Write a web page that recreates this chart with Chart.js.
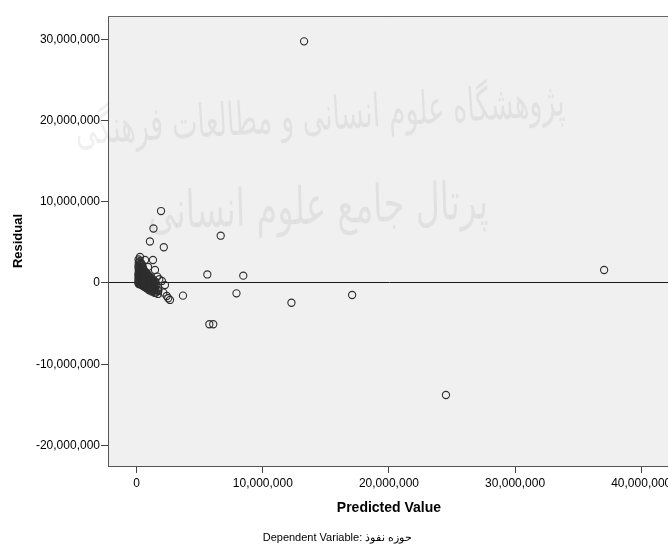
<!DOCTYPE html>
<html>
<head>
<meta charset="utf-8">
<script src="https://cdn.jsdelivr.net/npm/chart.js@4.4.0/dist/chart.umd.min.js"></script>
<style>
    html, body { margin: 0; padding: 0; background: #fff; overflow: hidden; }
    #wrap { width: 668px; height: 546px; overflow: hidden; }
    canvas { display: block; }
</style>
</head>
<body>
<div id="wrap"><canvas id="residualChart" width="675" height="546"></canvas></div>
<script>
// tick positions (raw units)
const xTicks = [0, 10000000, 20000000, 30000000, 40000000];
const yTicks = [-20000000, -10000000, 0, 10000000, 20000000, 30000000];

// values, in millions
const MILLION = 1000000;
const predicted = [
    // isolated points
    13.27, 1.93, 6.66, 1.33, 1.05, 2.15, 37.06, 5.60, 8.45, 7.91, 17.08, 3.67, 12.27, 5.76, 6.07, 24.52,
    // around the cluster
    0.26, 0.66, 1.29, 0.90, 1.45, 1.63, 1.79, 2.00, 2.24, 1.71, 2.11, 2.38, 2.50, 2.64,
    // dense cluster
    0.15, 0.16, 0.14, 0.15, 0.17, 0.15, 0.14, 0.16, 0.15, 0.15, 0.17, 0.14, 0.16, 0.15,
    0.21, 0.22, 0.20, 0.21, 0.23, 0.21, 0.20, 0.22, 0.21, 0.21, 0.22, 0.20, 0.21, 0.22,
    0.28, 0.29, 0.27, 0.28, 0.30, 0.28, 0.27, 0.29, 0.28, 0.28, 0.30,
    0.35, 0.36, 0.34, 0.35, 0.37, 0.35, 0.34, 0.36, 0.35, 0.35, 0.36, 0.34,
    0.42, 0.43, 0.41, 0.42, 0.44, 0.42, 0.41, 0.43, 0.42, 0.42, 0.44,
    0.49, 0.50, 0.48, 0.49, 0.51, 0.49, 0.48, 0.50, 0.49, 0.49, 0.50,
    0.56, 0.57, 0.55, 0.56, 0.58, 0.56, 0.55, 0.57, 0.56,
    0.64, 0.65, 0.63, 0.64, 0.66, 0.64, 0.63, 0.65, 0.64,
    0.72, 0.73, 0.71, 0.72, 0.74, 0.72, 0.71, 0.73,
    0.81, 0.82, 0.80, 0.81, 0.83, 0.81, 0.80, 0.82,
    0.90, 0.91, 0.89, 0.90, 0.92, 0.90, 0.89,
    1.00, 1.01, 0.99, 1.00, 1.02, 1.00, 0.99,
    1.10, 1.11, 1.09, 1.10, 1.12, 1.10,
    1.20, 1.21, 1.19, 1.20, 1.22, 1.20,
    1.30, 1.31, 1.29, 1.30, 1.32,
    1.40, 1.41, 1.39, 1.40, 1.42,
    1.50, 1.51, 1.49, 1.50,
    1.70, 1.71, 1.69
];
const residual = [
    29.75, 8.86, 5.82, 6.71, 5.11, 4.40, 1.60, 1.05, 0.90, -1.27, -1.48, -1.56, -2.43, -5.08, -5.08, -13.79,
    3.20, 2.83, 2.83, 1.97, 1.60, 0.78, 0.46, 0.25, -0.25, -0.86, -1.19, -1.60, -1.88, -2.09,
    2.90, 2.50, 2.10, 1.80, 1.50, 1.20, 1.00, 0.80, 0.60, 0.40, 0.25, 0.10, 0.00, -0.10,
    2.70, 2.30, 1.95, 1.65, 1.35, 1.10, 0.90, 0.70, 0.50, 0.32, 0.18, 0.05, -0.05, -0.15,
    2.60, 2.20, 1.70, 1.30, 0.90, 0.70, 0.50, 0.30, 0.15, 0.00, -0.15,
    2.45, 2.00, 1.55, 1.20, 0.95, 0.75, 0.60, 0.42, 0.25, 0.10, -0.05, -0.20,
    2.30, 1.90, 1.40, 1.10, 0.80, 0.55, 0.35, 0.20, 0.05, -0.10, -0.30,
    1.95, 1.50, 1.25, 1.00, 0.70, 0.48, 0.28, 0.12, -0.05, -0.20, -0.35,
    1.60, 1.20, 0.90, 0.60, 0.40, 0.20, 0.00, -0.20, -0.40,
    1.45, 1.05, 0.75, 0.50, 0.30, 0.10, -0.10, -0.30, -0.50,
    1.30, 0.90, 0.60, 0.30, 0.10, -0.10, -0.30, -0.55,
    1.15, 0.75, 0.45, 0.20, -0.05, -0.30, -0.55, -0.70,
    1.00, 0.60, 0.30, 0.00, -0.20, -0.45, -0.70,
    0.85, 0.45, 0.15, -0.15, -0.40, -0.65, -0.90,
    0.70, 0.30, 0.00, -0.30, -0.55, -0.85,
    0.55, 0.15, -0.20, -0.50, -0.75, -1.05,
    0.40, 0.00, -0.35, -0.70, -1.00,
    0.25, -0.15, -0.55, -0.90, -1.20,
    0.10, -0.40, -0.80, -1.20,
    -0.60, -1.00, -1.35
];

Chart.defaults.font.family = '"Liberation Sans", Arial, sans-serif';
Chart.defaults.color = '#000';

// plot background, watermark and top border
const plotFrame = {
    id: 'plotFrame',
    beforeDraw(chart) {
        const { ctx, chartArea: a } = chart;
        ctx.save();
        ctx.fillStyle = '#f0f0f0';
        ctx.fillRect(a.left, a.top, a.right - a.left, a.bottom - a.top);

        // faint watermark text
        const mark = (txt, cx, cy, w, h, ang) => {
            ctx.save();
            ctx.font = '40px "DejaVu Sans"';
            const mw = ctx.measureText(txt).width;
            ctx.translate(cx, cy);
            ctx.rotate(ang);
            ctx.scale(w / mw, h / 40);
            ctx.textAlign = 'center';
            ctx.textBaseline = 'middle';
            ctx.fillStyle = 'rgba(0,0,0,0.06)';
            ctx.fillText(txt, 0, 0);
            ctx.restore();
        };
        mark('پژوهشگاه علوم انسانی و مطالعات فرهنگی', 320, 118, 490, 46, -0.06);
        mark('پرتال جامع علوم انسانی', 318, 210, 340, 52, -0.03);
        ctx.restore();
    },
    afterDraw(chart) {
        const { ctx, chartArea: a } = chart;
        ctx.save();
        ctx.strokeStyle = '#666';
        ctx.lineWidth = 1;
        ctx.beginPath();
        ctx.moveTo(a.left, a.top + 0.5);
        ctx.lineTo(a.right, a.top + 0.5);
        ctx.stroke();
        ctx.restore();
    }
};

new Chart(document.getElementById('residualChart'), {
    type: 'scatter',
    data: {
        datasets: [{
            data: predicted.map((p, i) => ({ x: p * MILLION, y: residual[i] * MILLION })),
            pointRadius: 3.6,
            pointBorderWidth: 1.1,
            pointBorderColor: '#2e2e2e',
            pointBackgroundColor: 'rgba(0,0,0,0)',
            showLine: false
        }]
    },
    options: {
        responsive: false,
        animation: false,
        layout: { padding: { top: 16, right: 0, left: 0, bottom: 0 } },
        plugins: {
            legend: { display: false },
            tooltip: { enabled: false },
            title: {
                display: true,
                position: 'bottom',
                text: 'Dependent Variable: حوزه نفوذ',
                font: { size: 11, weight: 'normal' },
                color: '#000',
                padding: { top: 5.4, bottom: 1.4 }
            }
        },
        scales: {
            x: {
                type: 'linear',
                min: -2275000,
                max: 42275000,
                afterBuildTicks: s => { s.ticks = xTicks.map(v => ({ value: v })); },
                afterFit: s => {
                    s.height = 60;
                    s.paddingLeft = 0;
                    s.paddingRight = 0;
                },
                ticks: {
                    callback: v => v.toLocaleString('en-US'),
                    font: { size: 12 },
                    color: '#000',
                    padding: 3,
                    maxRotation: 0
                },
                grid: {
                    drawOnChartArea: false,
                    tickLength: 7,
                    tickColor: '#444'
                },
                border: { display: true, color: '#555', width: 1 },
                title: {
                    display: true,
                    text: 'Predicted Value',
                    font: { size: 14, weight: 'bold' },
                    color: '#000',
                    padding: { top: 0, bottom: 9.6 }
                }
            },
            y: {
                type: 'linear',
                min: -22530000,
                max: 32870000,
                afterBuildTicks: s => { s.ticks = yTicks.map(v => ({ value: v })); },
                afterFit: s => { s.width = 108; },
                ticks: {
                    callback: v => v.toLocaleString('en-US'),
                    font: { size: 12 },
                    color: '#000',
                    padding: 1
                },
                grid: {
                    drawOnChartArea: true,
                    color: c => (c.tick && c.tick.value === 0) ? '#1a1a1a' : 'rgba(0,0,0,0)',
                    tickLength: 7,
                    tickColor: '#444'
                },
                border: { display: true, color: '#555', width: 1 },
                title: {
                    display: true,
                    text: 'Residual',
                    font: { size: 13, weight: 'bold' },
                    color: '#000',
                    padding: { top: 11, bottom: 0 }
                }
            }
        }
    },
    plugins: [plotFrame]
});
</script>
</body>
</html>
